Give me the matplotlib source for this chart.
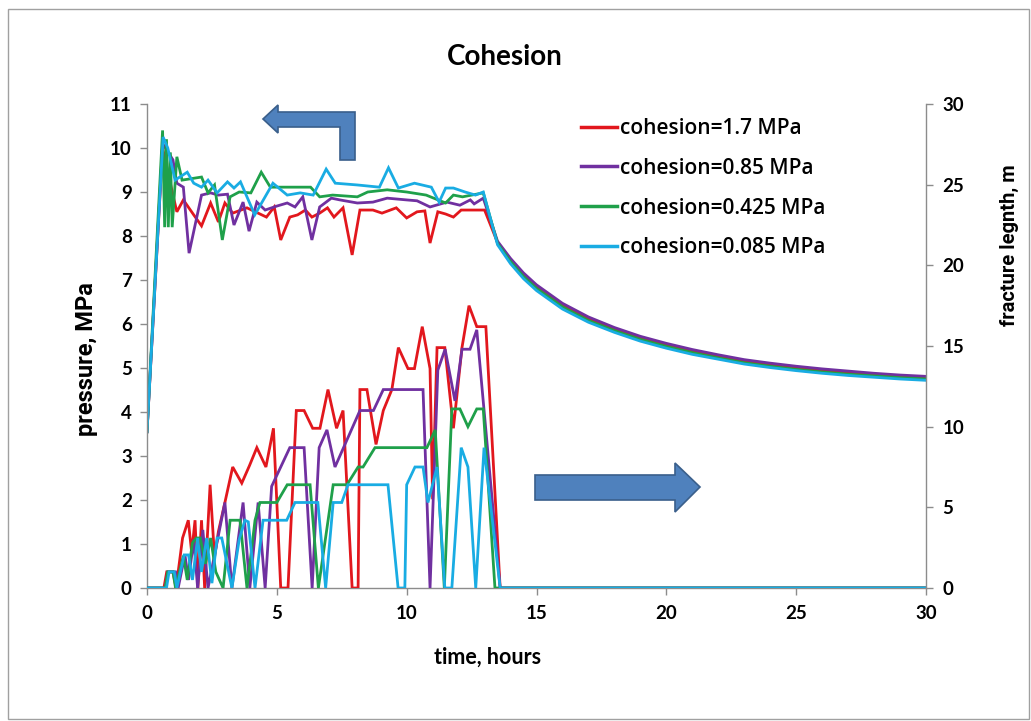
import matplotlib
matplotlib.use("Agg")
import matplotlib.pyplot as plt
from matplotlib.patches import Polygon, Rectangle
from matplotlib.lines import Line2D

W, H = 1031, 721

# ---- data -------------------------------------------------------------
labels = ["cohesion=1.7 MPa", "cohesion=0.85 MPa",
          "cohesion=0.425 MPa", "cohesion=0.085 MPa"]
colors = ["#E2171D", "#7030A0", "#1FA04A", "#19ACE3"]

# shut-in decline (shared time grid, hours)
decay_t = [13.5, 14, 14.5, 15, 16, 17, 18, 19, 20, 21, 22, 23, 24, 25, 26, 27, 28, 29, 30]

# pressure, MPa (injection period)
p_red_t = [0, 0.6, 1.0, 1.15, 1.4, 1.8, 2.1, 2.45, 2.75, 3.0, 3.3, 3.85, 4.6, 4.9, 5.15,
           5.5, 5.8, 6.1, 6.35, 6.65, 6.95, 7.2, 7.55, 7.9, 8.2, 8.7, 9.05, 9.6, 10.0,
           10.4, 10.7, 10.9, 11.2, 11.5, 11.8, 12.1, 13.0]
p_red = [3.55, 10.0, 8.93, 8.55, 8.82, 8.48, 8.23, 8.75, 8.32, 8.75, 8.52, 8.64, 8.43,
         8.66, 7.91, 8.43, 8.48, 8.59, 8.43, 8.52, 8.64, 8.43, 8.64, 7.57, 8.59, 8.59,
         8.52, 8.64, 8.41, 8.55, 8.57, 7.84, 8.55, 8.50, 8.43, 8.59, 8.59]
p_red_decay = [7.85, 7.45, 7.12, 6.85, 6.43, 6.12, 5.88, 5.68, 5.52, 5.38, 5.26, 5.15,
               5.07, 5.00, 4.94, 4.89, 4.85, 4.81, 4.78]

p_pur_t = [0, 0.6, 1.0, 1.15, 1.4, 1.62, 2.1, 2.45, 2.75, 3.1, 3.35, 3.7, 3.93, 4.23,
           4.55, 5.0, 5.4, 5.7, 6.0, 6.35, 6.65, 7.1, 7.43, 8.1, 8.7, 9.25, 10.0, 10.4,
           10.9, 11.55, 12.05, 12.45, 12.6, 12.95]
p_pur = [3.55, 10.1, 9.73, 9.2, 9.11, 7.61, 8.93, 8.98, 8.93, 8.95, 8.25, 8.77, 8.11,
         8.77, 8.59, 8.68, 8.75, 8.66, 8.89, 7.91, 8.66, 8.86, 8.82, 8.75, 8.77, 8.86,
         8.82, 8.80, 8.66, 8.77, 8.70, 8.82, 8.73, 8.86]
p_pur_decay = [7.88, 7.49, 7.16, 6.89, 6.47, 6.16, 5.92, 5.72, 5.56, 5.42, 5.30, 5.19,
               5.11, 5.04, 4.98, 4.93, 4.88, 4.84, 4.81]

p_grn_t = [0, 0.6, 0.68, 0.75, 0.82, 0.9, 0.97, 1.15, 1.35, 2.1, 2.35, 2.6, 2.9, 3.2,
           3.55, 4.0, 4.4, 4.75, 5.5, 6.3, 6.65, 7.15, 8.1, 8.5, 9.25, 10.0, 10.75,
           11.5, 11.8, 12.15, 12.95]
p_grn = [3.55, 10.4, 8.2, 10.2, 8.2, 9.9, 8.2, 9.8, 9.27, 9.34, 8.98, 9.16, 7.91, 8.89,
         9.0, 8.98, 9.45, 9.11, 9.11, 9.11, 8.89, 8.93, 8.89, 9.0, 9.05, 9.0, 8.93,
         8.75, 8.93, 8.89, 8.98]
p_grn_decay = [7.83, 7.42, 7.08, 6.81, 6.39, 6.08, 5.85, 5.65, 5.49, 5.35, 5.23, 5.12,
               5.04, 4.97, 4.91, 4.86, 4.82, 4.78, 4.75]

p_cya_t = [0, 0.62, 0.8, 1.08, 1.55, 1.8, 2.1, 2.35, 2.7, 3.1, 3.35, 3.6, 4.15, 4.85,
           5.4, 5.9, 6.4, 6.9, 7.25, 8.1, 8.95, 9.3, 9.68, 10.3, 10.95, 11.25, 11.5,
           11.8, 12.25, 12.65, 12.95]
p_cya = [3.55, 10.25, 10.0, 9.27, 9.45, 9.2, 9.11, 9.27, 8.98, 9.23, 9.09, 9.23, 8.48,
         9.2, 8.93, 8.98, 8.93, 9.52, 9.2, 9.16, 9.11, 9.55, 9.09, 9.2, 9.11, 8.77,
         9.09, 9.09, 9.0, 8.93, 9.0]
p_cya_decay = [7.80, 7.37, 7.03, 6.76, 6.34, 6.04, 5.81, 5.61, 5.45, 5.31, 5.20, 5.09,
               5.01, 4.94, 4.88, 4.83, 4.79, 4.75, 4.72]

# fracture length, m
f_red_t = [0, 0.65, 0.76, 1.0, 1.12, 1.37, 1.59, 1.72, 1.85, 1.96, 2.1, 2.22, 2.43,
           2.6, 2.75, 3.0, 3.3, 3.65, 3.95, 4.23, 4.58, 4.87, 5.15, 5.43, 5.75, 6.05,
           6.38, 6.66, 6.97, 7.3, 7.55, 7.9, 8.13, 8.2, 8.47, 8.82, 9.1, 9.43, 9.68,
           10.05, 10.3, 10.6, 10.9, 11.0, 11.17, 11.47, 11.8, 12.13, 12.4, 12.7, 13.05,
           13.6, 30]
f_red = [0, 0, 1.0, 1.0, 0, 3.1, 4.2, 2.2, 4.2, 0, 4.2, 0, 6.4, 1.9, 3.5, 5.3, 7.5, 6.5,
         7.6, 8.7, 7.5, 9.9, 0, 0, 11.0, 11.0, 9.9, 9.9, 12.3, 9.9, 11.0, 0, 0, 12.3,
         12.3, 8.9, 11.0, 12.3, 14.9, 13.6, 13.6, 16.2, 13.6, 5.5, 14.9, 14.9, 9.9,
         14.9, 17.5, 16.2, 16.2, 0, 0]

f_pur_t = [0, 0.7, 0.8, 1.1, 1.2, 1.46, 1.6, 1.8, 1.95, 2.15, 2.35, 3.0, 3.27, 3.7,
           3.96, 4.28, 4.55, 4.8, 5.5, 6.05, 6.36, 6.63, 6.93, 7.24, 8.2, 8.72, 9.1,
           10.63, 10.9, 11.2, 11.48, 11.86, 12.13, 12.44, 12.7, 13.6, 30]
f_pur = [0, 0, 1.0, 1.0, 0, 2.05, 0.5, 3.0, 0, 3.6, 0, 5.3, 0, 5.3, 0, 5.3, 0, 6.3, 8.7,
         8.7, 0, 8.7, 9.8, 7.5, 11.0, 11.0, 12.3, 12.3, 0, 13.5, 14.8, 11.6, 14.8, 14.8,
         16.0, 0, 0]

f_grn_t = [0, 0.7, 0.8, 1.0, 1.1, 1.4, 1.55, 1.75, 1.9, 2.05, 2.25, 2.45, 2.65, 2.93,
           3.2, 3.58, 3.85, 4.16, 4.35, 5.0, 5.4, 6.28, 6.6, 7.17, 7.7, 8.13, 8.32, 8.78,
           10.78, 11.1, 11.45, 11.74, 12.05, 12.36, 12.7, 12.95, 13.4, 30]
f_grn = [0, 0, 1.0, 1.0, 0, 2.0, 0.5, 2.8, 3.1, 3.1, 1.5, 3.1, 1.0, 0, 4.2, 4.2, 0, 4.2,
         5.3, 5.3, 6.4, 6.4, 0, 6.4, 6.4, 7.5, 7.5, 8.7, 8.7, 9.8, 0, 11.1, 11.1, 10.0,
         11.1, 11.1, 0, 0]

f_cya_t = [0, 0.75, 0.85, 1.05, 1.15, 1.43, 1.6, 1.75, 1.95, 2.1, 2.3, 2.5, 2.7, 2.88,
           3.27, 3.55, 3.77, 3.9, 4.16, 4.47, 5.38, 5.7, 6.58, 6.88, 7.17, 7.5, 7.74,
           9.28, 9.67, 9.93, 10.0, 10.32, 10.63, 10.82, 11.17, 11.47, 11.74, 12.1, 12.36,
           12.66, 12.98, 13.6, 30]
f_cya = [0, 0, 1.0, 1.0, 0, 2.05, 2.05, 0.5, 3.1, 1.0, 3.1, 0.3, 3.1, 3.1, 0, 3.0, 4.2,
         4.1, 0, 4.2, 4.2, 5.3, 5.3, 0, 5.3, 5.3, 6.4, 6.4, 0, 0, 6.4, 7.5, 7.5, 5.3, 7.5,
         0, 0, 8.7, 7.5, 0, 8.7, 0, 0]

x_ticks = [0, 5, 10, 15, 20, 25, 30]
p_ticks = list(range(0, 12))
f_ticks = [0, 5, 10, 15, 20, 25, 30]

# ---- figure -----------------------------------------------------------
def fx(x):
    return x / W


def fy(y):
    return 1 - y / H


plt.rcParams["font.family"] = ["Lato", "DejaVu Sans"]
fig = plt.figure(figsize=(W / 100, H / 100), dpi=100)
fig.patch.set_facecolor("white")

# chart-area frame
fig.patches.append(Rectangle((fx(8), fy(719)), fx(1021), 710 / H,
                             transform=fig.transFigure, fill=False,
                             edgecolor="#A0A0A0", lw=1.0, zorder=0))

ax = fig.add_axes([fx(147), fy(588), fx(779), 484 / H])
ax2 = ax.twinx()

pressure = [(p_red_t + decay_t, p_red + p_red_decay),
            (p_pur_t + decay_t, p_pur + p_pur_decay),
            (p_grn_t + decay_t, p_grn + p_grn_decay),
            (p_cya_t + decay_t, p_cya + p_cya_decay)]
fracture = [(f_red_t, f_red), (f_pur_t, f_pur), (f_grn_t, f_grn), (f_cya_t, f_cya)]

for (t, p), c in zip(pressure, colors):
    ax.plot(t, p, color=c, lw=2.0, solid_joinstyle="miter")
for (t, f), c in zip(fracture, colors):
    ax2.plot(t, f, color=c, lw=2.0, solid_joinstyle="miter")

ax.set_xlim(0, 30)
ax.set_ylim(0, 11)
ax2.set_ylim(0, 30)
ax.set_xticks(x_ticks)
ax.set_yticks(p_ticks)
ax2.set_yticks(f_ticks)

spine_c = "#8C8C8C"
for a in (ax, ax2):
    for s in a.spines.values():
        s.set_color(spine_c)
        s.set_linewidth(1.0)
    a.spines["top"].set_visible(False)
    a.tick_params(colors=spine_c, labelcolor="black", labelsize=13.5,
                  length=5, width=1.0, direction="out")
ax.spines["right"].set_visible(False)
ax2.spines["left"].set_visible(False)
ax2.spines["bottom"].set_visible(False)
ax.tick_params(axis="y", pad=6)
ax.tick_params(axis="x", pad=7)
ax2.tick_params(axis="y", pad=7)
for lab in ax.get_xticklabels() + ax.get_yticklabels() + ax2.get_yticklabels():
    lab.set_fontweight("bold")

# titles and axis labels
fig.text(fx(505), fy(57), "Cohesion", ha="center", va="center",
         fontsize=20, fontweight="bold")
fig.text(fx(488), fy(657), "time, hours", ha="center", va="center",
         fontsize=15.5, fontweight="bold")
fig.text(fx(86), fy(359), "pressure, MPa", ha="center", va="center",
         rotation=90, fontsize=17, fontweight="bold", family=["Roboto", "DejaVu Sans"])
fig.text(fx(1009), fy(245), "fracture legnth, m", ha="center", va="center",
         rotation=90, fontsize=14.5, fontweight="bold",
         family=["Roboto", "DejaVu Sans"])

# legend
handles = [Line2D([], [], color=c, lw=2.5) for c in colors]
leg = ax2.legend(handles, labels, loc="upper left",
                 bbox_to_anchor=(fx(581), fy(118)), bbox_transform=fig.transFigure,
                 frameon=False, handlelength=1.75, handletextpad=0.1,
                 labelspacing=0.9, borderpad=0, borderaxespad=0,
                 prop={"family": ["Open Sans", "DejaVu Sans"], "size": 15,
                       "weight": "semibold"})

# block arrows pointing to each axis
arrow_face, arrow_edge = "#4F81BD", "#3A5F8B"
bent = [(263, 119), (278, 105), (278, 112), (355, 112), (355, 160), (340, 160),
        (340, 127), (278, 127), (278, 133)]
right = [(535, 475), (675, 475), (675, 463), (700, 487), (675, 512), (675, 500),
         (535, 500)]
for pts in (bent, right):
    fig.patches.append(Polygon([(fx(x), fy(y)) for x, y in pts], closed=True,
                               transform=fig.transFigure, facecolor=arrow_face,
                               edgecolor=arrow_edge, lw=1.2, zorder=5))

fig.savefig("out.png", dpi=100, facecolor="white")
